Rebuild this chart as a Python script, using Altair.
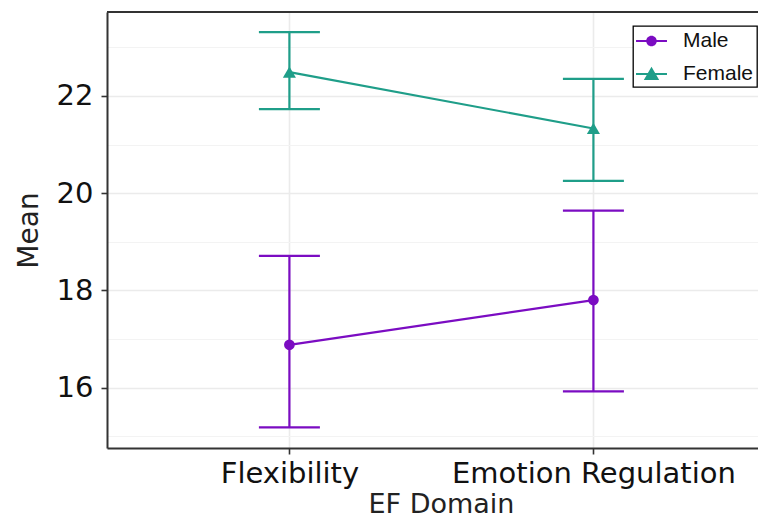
import json
import altair as alt
import pandas as pd

categories = ["Flexibility", "Emotion Regulation"]
groups = ["Male", "Female"]
male_mean = [16.88, 17.80]
male_lo = [15.18, 15.92]
male_hi = [18.71, 19.64]
female_mean = [22.49, 21.33]
female_lo = [21.73, 20.25]
female_hi = [23.31, 22.35]
y_ticks = [15, 16, 17, 18, 19, 20, 21, 22, 23]

PURPLE = "#7B0CC2"
TEAL = "#1F9E89"

rows = []
for i, c in enumerate(categories):
    rows.append({"Domain": c, "idx": i, "Sex": "Male", "mean": male_mean[i], "lo": male_lo[i], "hi": male_hi[i]})
    rows.append({"Domain": c, "idx": i, "Sex": "Female", "mean": female_mean[i], "lo": female_lo[i], "hi": female_hi[i]})
df = pd.DataFrame(rows)

W, H = 651, 436
label_expr = json.dumps(categories) + "[datum.value]"

x_enc = alt.X(
    "idx:Q",
    scale=alt.Scale(domain=[-0.6, 1.5414], nice=False, zero=False),
    axis=alt.Axis(
        values=[0, 1], labelExpr=label_expr, title="EF Domain", titleX=334,
        grid=True, gridColor="#EBEBEB", gridWidth=1.6,
        domainColor="#333333", domainWidth=2, tickColor="#333333", tickWidth=1.6, tickSize=6,
        labelPadding=5, labelFontSize=29, labelColor="#111111", titleFontSize=27,
        titleFontWeight="normal", titleColor="#222222", titlePadding=3, labelFlush=False,
        labelLimit=0, labelOverlap=False,
    ),
)
y_scale = alt.Scale(domain=[14.757, 23.726], nice=False, zero=False)
y_axis = alt.Axis(
    values=y_ticks, title="Mean",
    labelExpr="datum.value % 2 == 0 ? datum.label : ''",
    grid=True, gridColor={"condition": {"test": "datum.value % 2 == 0", "value": "#EBEBEB"}, "value": "#F3F3F3"},
    gridWidth={"condition": {"test": "datum.value % 2 == 0", "value": 1.6}, "value": 1.0},
    tickOpacity={"condition": {"test": "datum.value % 2 == 0", "value": 1}, "value": 0},
    domainColor="#333333", domainWidth=2, tickColor="#333333", tickWidth=1.6, tickSize=6,
    labelPadding=8, labelFontSize=29, labelColor="#111111", titleFontSize=28,
    titleFontWeight="normal", titleColor="#222222", titlePadding=13,
)

color = alt.Color("Sex:N", title=None, scale=alt.Scale(domain=groups, range=[PURPLE, TEAL]))

circle_path = "M-1.29,-0.083H1.29V0.083H-1.29ZM0.44,0A0.44,0.44,0,1,1,-0.44,0A0.44,0.44,0,1,1,0.44,0Z"
tri_path = "M-1.29,-0.083H1.29V0.083H-1.29ZM0,-0.6L0.64,0.5L-0.64,0.5Z"

base = alt.Chart(df)

legend_layer = base.mark_point(filled=True, opacity=0, size=10).encode(
    x=x_enc, y=alt.Y("mean:Q", scale=y_scale, axis=y_axis), color=color,
    shape=alt.Shape("Sex:N", title=None, scale=alt.Scale(domain=groups, range=[circle_path, tri_path])),
)
lines = base.mark_line(strokeWidth=2.2).encode(
    x=x_enc, y=alt.Y("mean:Q", scale=y_scale, axis=y_axis), color=color, detail="Sex:N",
)
bars = base.mark_rule(strokeWidth=2.2).encode(
    x=x_enc, y=alt.Y("lo:Q", scale=y_scale, axis=y_axis), y2="hi:Q", color=color,
)
caps_lo = base.mark_tick(orient="horizontal", size=61, thickness=2.2, opacity=1).encode(
    x=x_enc, y=alt.Y("lo:Q", scale=y_scale, axis=y_axis), color=color,
)
caps_hi = base.mark_tick(orient="horizontal", size=61, thickness=2.2, opacity=1).encode(
    x=x_enc, y=alt.Y("hi:Q", scale=y_scale, axis=y_axis), color=color,
)
pts_m = base.transform_filter(alt.datum.Sex == "Male").mark_point(
    filled=True, shape="circle", size=115, opacity=1
).encode(x=x_enc, y=alt.Y("mean:Q", scale=y_scale, axis=y_axis), color=color)
pts_f = base.transform_filter(alt.datum.Sex == "Female").mark_point(
    filled=True, shape="triangle-up", size=170, opacity=1
).encode(x=x_enc, y=alt.Y("mean:Q", scale=y_scale, axis=y_axis), color=color)

top_border = alt.Chart(pd.DataFrame({"k": [0]})).mark_rule(color="#333333", strokeWidth=2).encode(
    x=alt.value(0), x2=alt.value(W), y=alt.value(0)
)

chart = (
    alt.layer(legend_layer, lines, bars, caps_lo, caps_hi, pts_m, pts_f, top_border)
    .properties(
        width=W, height=H,
        autosize=alt.AutoSizeParams(type="none"),
        padding={"left": 99, "top": 4, "right": 0, "bottom": 73},
    )
    .configure(font="DejaVu Sans")
    .configure_view(stroke=None)
    .configure_legend(
        orient="none", legendX=526, legendY=14, padding=3,
        strokeColor="#000000", strokeWidth=1.3, fillColor="#FFFFFF",
        symbolSize=576, symbolOpacity=1, symbolStrokeWidth=0, symbolOffset=3.5,
        labelFont="Liberation Sans", labelFontSize=21, labelColor="#111111",
        labelOffset=19.5, rowPadding=11, cornerRadius=0,
    )
)

chart.save("out.html", embed_options={"renderer": "svg", "actions": False})
